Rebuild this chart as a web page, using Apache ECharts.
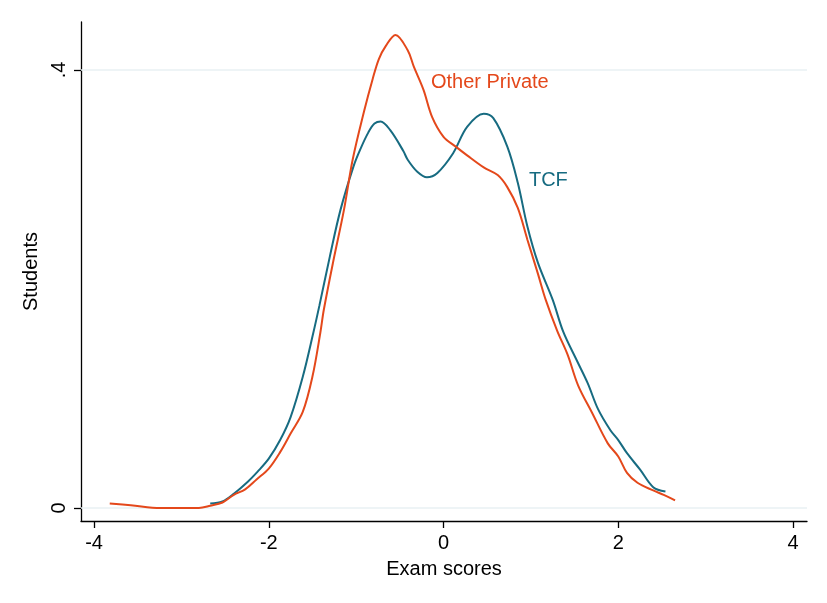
<!DOCTYPE html>
<html>
<head>
<meta charset="utf-8">
<script src="https://cdn.jsdelivr.net/npm/echarts@6/dist/echarts.min.js"></script>
<style>
  html, body { margin: 0; padding: 0; background: #fff; }
  #chart { width: 827px; height: 603px; }
</style>
</head>
<body>
<div id="chart"></div>
<script>
// kernel density of exam scores
var tcfScores = [-2.67, -2.53, -2.40, -2.24, -2.13, -2.00, -1.87, -1.75, -1.61, -1.49, -1.42, -1.30, -1.18, -1.03, -0.95, -0.86, -0.79, -0.72, -0.61, -0.46, -0.41, -0.30, -0.19, -0.07, 0.11, 0.27, 0.46, 0.57, 0.73, 0.85, 0.96, 1.08, 1.25, 1.37, 1.53, 1.65, 1.77, 1.91, 2.00, 2.10, 2.25, 2.40, 2.54];
var tcfDensity = [0.004, 0.006, 0.013, 0.024, 0.033, 0.045, 0.062, 0.083, 0.120, 0.160, 0.185, 0.230, 0.272, 0.312, 0.328, 0.343, 0.351, 0.353, 0.345, 0.326, 0.318, 0.307, 0.302, 0.306, 0.324, 0.348, 0.360, 0.356, 0.330, 0.297, 0.257, 0.224, 0.190, 0.161, 0.134, 0.114, 0.090, 0.071, 0.062, 0.050, 0.035, 0.019, 0.015];

var otherScores = [-3.82, -3.58, -3.24, -2.80, -2.67, -2.53, -2.40, -2.27, -2.14, -2.00, -1.87, -1.75, -1.61, -1.50, -1.41, -1.37, -1.26, -1.14, -1.04, -0.91, -0.81, -0.74, -0.66, -0.55, -0.41, -0.34, -0.23, -0.13, 0.00, 0.14, 0.27, 0.46, 0.62, 0.73, 0.85, 0.96, 1.08, 1.17, 1.30, 1.42, 1.54, 1.70, 1.88, 2.00, 2.10, 2.22, 2.40, 2.52, 2.65];
var otherDensity = [0.004, 0.0025, 0.000, 0.000, 0.002, 0.005, 0.012, 0.017, 0.026, 0.036, 0.051, 0.068, 0.088, 0.120, 0.160, 0.181, 0.226, 0.272, 0.318, 0.362, 0.392, 0.410, 0.422, 0.432, 0.418, 0.403, 0.382, 0.357, 0.339, 0.330, 0.322, 0.311, 0.304, 0.293, 0.274, 0.245, 0.214, 0.190, 0.162, 0.140, 0.112, 0.087, 0.059, 0.047, 0.032, 0.023, 0.016, 0.012, 0.007];

var xTicks = [-4, -2, 0, 2, 4];
var yTicks = [0, 0.4];
var yTickLabels = ['0', '.4'];

// label anchors (data coords)
var otherLabelAt = [0.53, 0.389];
var tcfLabelAt = [1.20, 0.299];

var tcfColor = '#176b81';
var otherColor = '#e4481b';
var font = 'Liberation Sans, Arial, Helvetica, sans-serif';

var zip = function (xs, ys) {
    return xs.map(function (x, i) { return [x, ys[i]]; });
};

var chart = echarts.init(document.getElementById('chart'));
chart.setOption({
    animation: false,
    backgroundColor: '#fff',
    grid: { left: 81, right: 20, top: 22, bottom: 82 },
    xAxis: {
        type: 'value',
        min: -4.149,
        max: 4.16,
        name: 'Exam scores',
        nameLocation: 'middle',
        nameGap: 38,
        nameTextStyle: { color: '#000', fontSize: 20, fontFamily: font },
        axisLine: { show: true, onZero: false, lineStyle: { color: '#000', width: 1.3 } },
        axisTick: { show: true, length: 7, customValues: xTicks, lineStyle: { color: '#000', width: 1.3 } },
        axisLabel: { customValues: xTicks, color: '#000', fontSize: 20, fontFamily: font, margin: 12 },
        splitLine: { show: false }
    },
    yAxis: {
        type: 'value',
        min: -0.0119,
        max: 0.4438,
        name: 'Students',
        nameLocation: 'middle',
        nameGap: 36,
        nameTextStyle: { color: '#000', fontSize: 20, fontFamily: font },
        axisLine: { show: true, onZero: false, lineStyle: { color: '#000', width: 1.3 } },
        axisTick: { show: true, length: 7, customValues: yTicks, lineStyle: { color: '#000', width: 1.3 } },
        axisLabel: {
            customValues: yTicks,
            rotate: 90,
            color: '#000',
            fontSize: 20,
            fontFamily: font,
            margin: 12,
            formatter: function (v) { return yTickLabels[yTicks.indexOf(v)]; }
        },
        splitLine: { show: false }
    },
    series: [
        {
            name: 'grid',
            type: 'line',
            data: [],
            silent: true,
            z: 1,
            markLine: {
                silent: true,
                symbol: 'none',
                z: 1,
                label: { show: false },
                lineStyle: { color: '#e9f0f3', width: 1.5, type: 'solid' },
                data: yTicks.map(function (v) { return { yAxis: v }; })
            }
        },
        {
            name: 'TCF',
            type: 'line',
            z: 5,
            data: zip(tcfScores, tcfDensity),
            smooth: 0.35,
            showSymbol: false,
            lineStyle: { color: tcfColor, width: 2 },
            itemStyle: { color: tcfColor },
            markPoint: {
                symbol: 'circle',
                symbolSize: 0,
                label: { show: true, formatter: 'TCF', color: tcfColor, fontSize: 20, fontFamily: font, position: 'inside' },
                data: [{ coord: tcfLabelAt }]
            }
        },
        {
            name: 'Other Private',
            type: 'line',
            z: 6,
            data: zip(otherScores, otherDensity),
            smooth: 0.35,
            showSymbol: false,
            lineStyle: { color: otherColor, width: 2 },
            itemStyle: { color: otherColor },
            markPoint: {
                symbol: 'circle',
                symbolSize: 0,
                label: { show: true, formatter: 'Other Private', color: otherColor, fontSize: 20, fontFamily: font, position: 'inside' },
                data: [{ coord: otherLabelAt }]
            }
        }
    ]
});
</script>
</body>
</html>
